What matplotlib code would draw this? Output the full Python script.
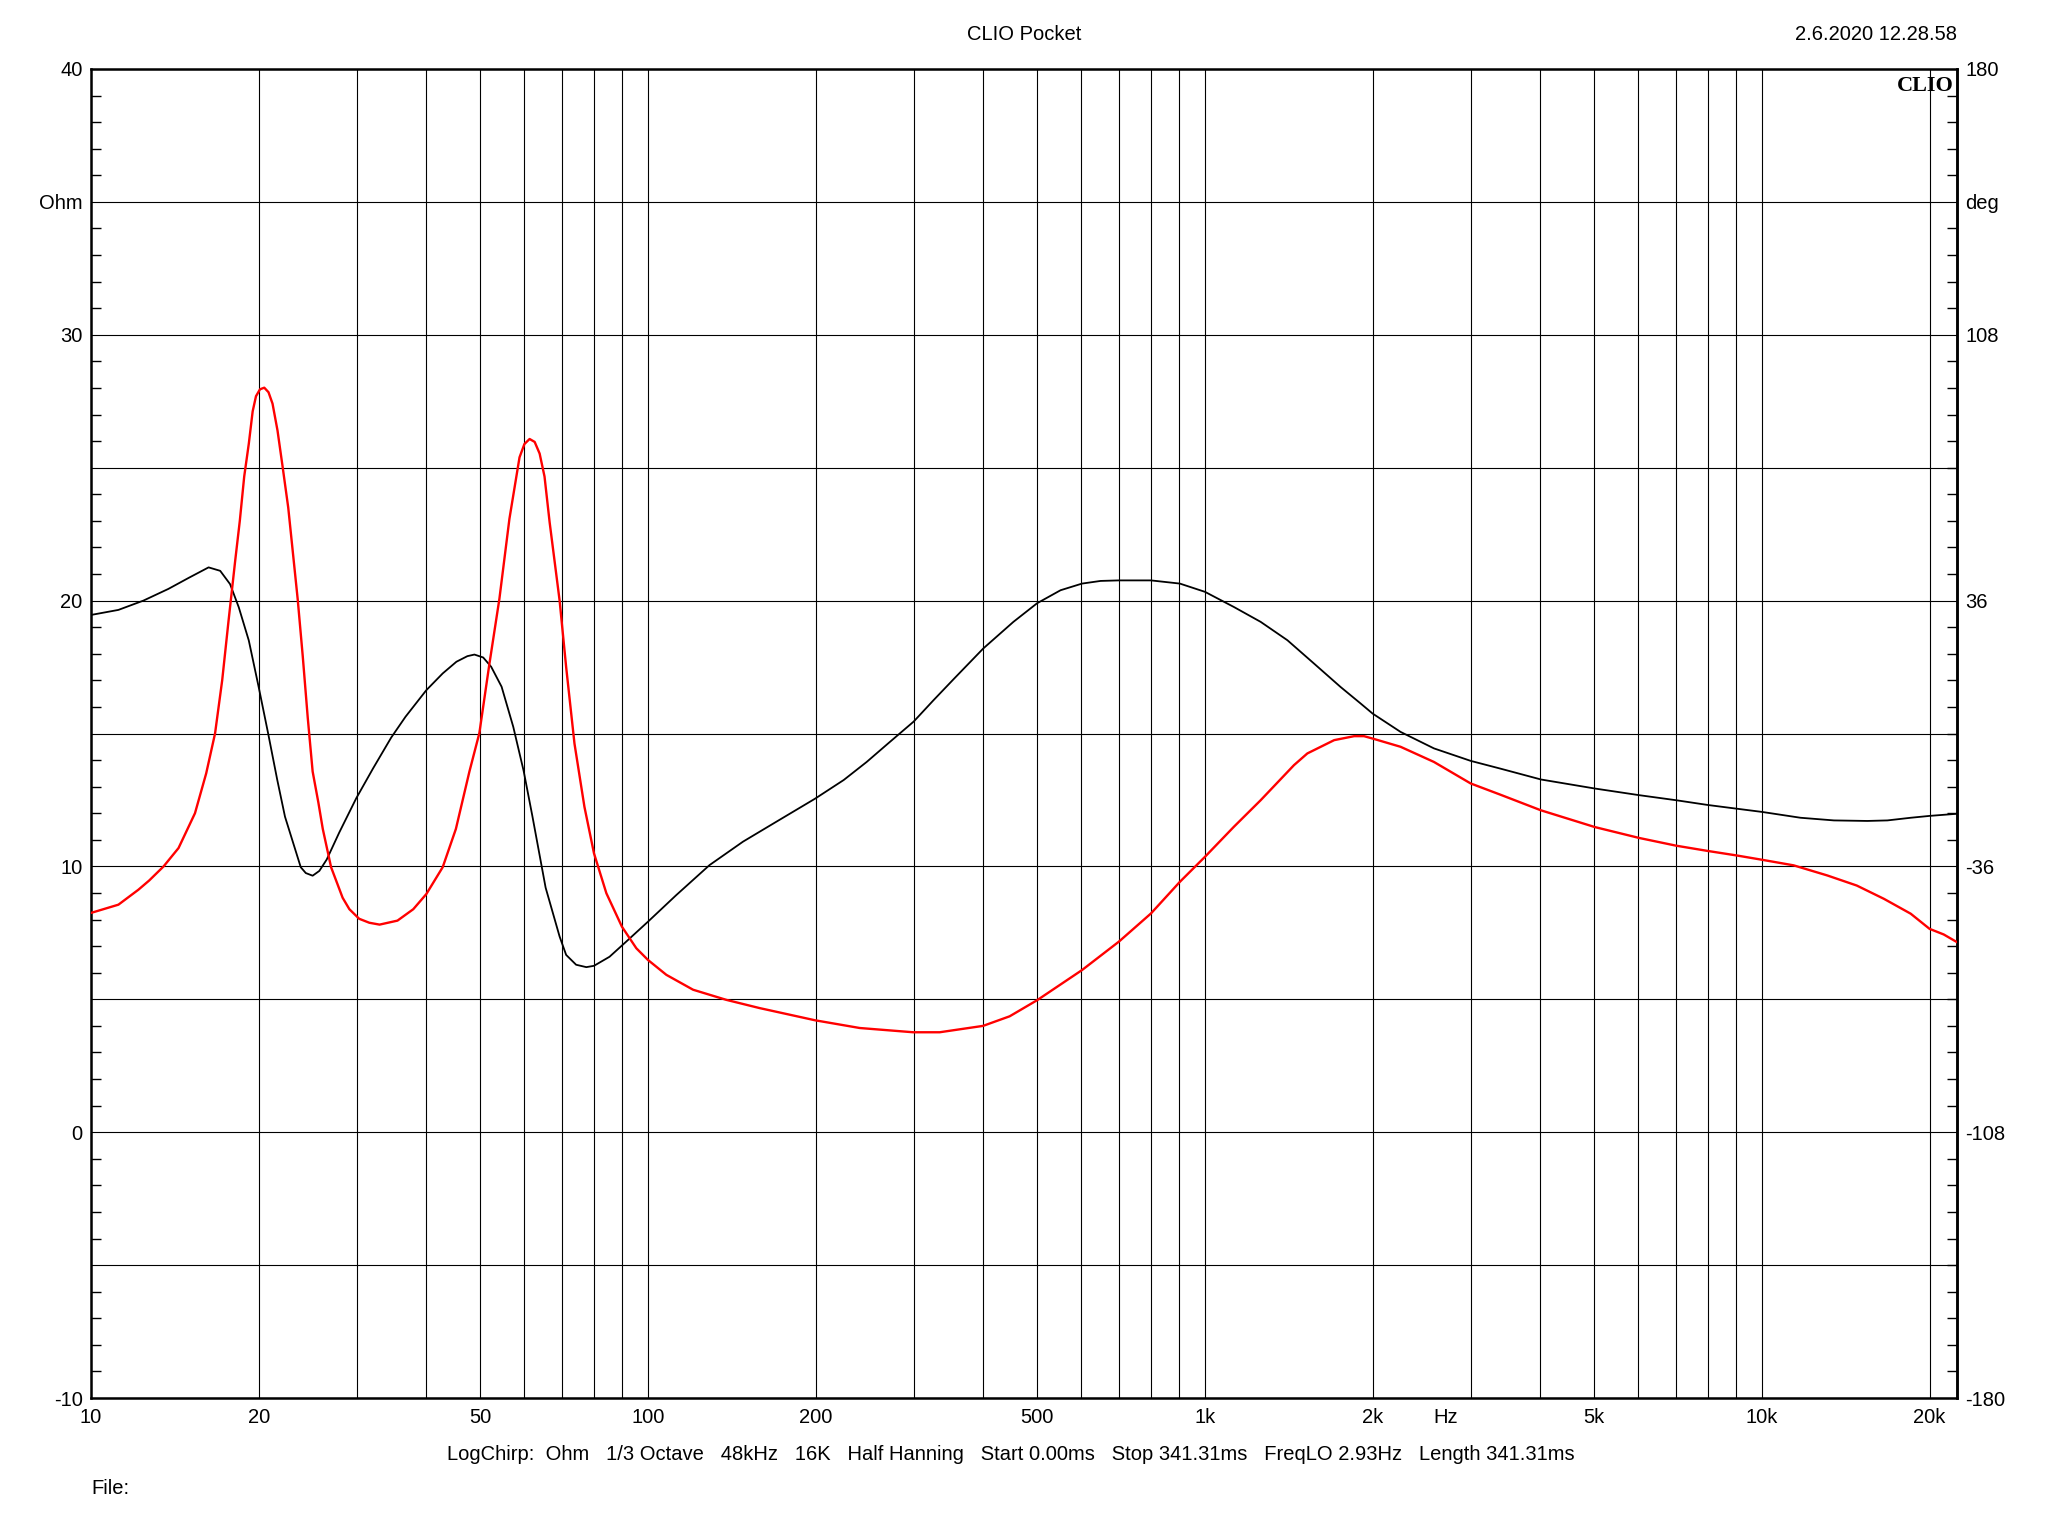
import numpy as np
import matplotlib
matplotlib.use("Agg")
import matplotlib.pyplot as plt
from matplotlib.ticker import FixedLocator, FuncFormatter, MultipleLocator, NullLocator

plt.rcParams['font.family'] = ['Liberation Sans', 'DejaVu Sans']
plt.rcParams['font.size'] = 14.5

# red trace (Ohm)
red_hz = [10, 11.2, 12.16, 12.72, 13.5, 14.36, 15.37, 16.1, 16.7, 17.2, 17.66, 18.15, 18.5,
          18.84, 19.2, 19.51, 19.78, 20.11, 20.47, 20.83, 21.18, 21.62, 22.06, 22.6, 23.5,
          24.0, 24.5, 25.0, 25.6, 26.07, 26.98, 28.3, 29.1, 30.3, 31.6, 32.97, 35.5, 37.9,
          40.0, 42.8, 45.2, 47.8, 49.8, 51.9, 54.1, 56.4, 58.8, 60.0, 61.3, 62.6, 63.9, 65.2,
          66.6, 69.4, 71.3, 73.8, 76.9, 80, 84.2, 89.8, 95.3, 100, 107.9, 120.5,
          138.2, 158.6, 199.6, 240, 299.3, 334, 399.6, 446, 500, 601.6, 700.7, 800, 901.6,
          1000, 1127, 1259, 1445, 1527, 1614, 1706, 1853, 1930, 2000, 2245, 2577, 3000, 3390,
          4011, 5012, 6020, 7012, 8000, 9018, 10000, 11400, 13100, 14800, 16560, 18500, 20000,
          21200, 22400]
red_ohm = [8.25, 8.56, 9.12, 9.47, 10.0, 10.69, 12.0, 13.5, 15.0, 17.0, 19.25, 21.5, 23.0,
           24.67, 25.9, 27.12, 27.69, 27.95, 28.01, 27.84, 27.41, 26.4, 25.1, 23.5, 20.06,
           17.9, 15.59, 13.57, 12.4, 11.41, 9.97, 8.82, 8.39, 8.03, 7.88, 7.81, 7.96, 8.39,
           8.96, 9.97, 11.41, 13.57, 15.01, 17.6, 20.06, 23.08, 25.39, 25.89, 26.08, 25.97, 25.53, 24.67,
           22.94, 20.0, 17.5, 14.62, 12.24, 10.49, 8.99, 7.73, 6.92, 6.48, 5.92, 5.36,
           4.98, 4.67, 4.21, 3.92, 3.76, 3.76, 4.0, 4.36, 4.97, 6.1, 7.17, 8.23, 9.42,
           10.36, 11.49, 12.49, 13.81, 14.25, 14.5, 14.75, 14.9, 14.9, 14.81, 14.5, 13.93, 13.12, 12.7,
           12.11, 11.48, 11.07, 10.78, 10.58, 10.41, 10.25, 10.04, 9.66, 9.28, 8.78, 8.22, 7.65,
           7.44, 7.15]

# black trace, same units
blk_hz = [10, 11.2, 12.42, 13.77, 14.96, 16.26, 17.06, 17.77, 18.42, 19.2, 20, 20.8, 21.6,
          22.3, 23.8, 24.3, 25.0, 25.7, 26.5, 27.9, 29.95, 32.08, 34.6, 36.7, 40, 42.8, 45.3,
          47.4, 48.8, 50.6, 52.3, 54.6, 57.3, 59.8, 62.0, 65.5, 69.4, 71.3, 74.3, 77.5, 80,
          85.3, 91.4, 100, 112.4, 129, 148.1, 170, 199.6, 224.6, 247, 270, 300, 325.5, 354, 400,
          453, 499.6, 550.5, 601.6, 649.6, 700.7, 800, 901.6, 1000, 1127, 1259, 1406, 1570, 1752,
          1903, 2000, 2245, 2577, 3000, 3390, 4011, 5012, 6020, 7012, 8000, 9018, 10000, 11730,
          13470, 15460, 16800, 18500, 20000, 22400]
blk_ohm = [19.46, 19.65, 20.0, 20.44, 20.85, 21.25, 21.12, 20.62, 19.75, 18.5, 16.75, 15.0, 13.25,
           11.87, 9.97, 9.75, 9.65, 9.83, 10.26, 11.27, 12.57, 13.68, 14.85, 15.63, 16.63, 17.26, 17.7,
           17.91, 17.97, 17.86, 17.51, 16.76, 15.25, 13.6, 11.9, 9.2, 7.36, 6.67, 6.3, 6.21, 6.26,
           6.6, 7.17, 7.92, 8.92, 10.05, 10.93, 11.68, 12.55, 13.25, 13.93, 14.63, 15.45, 16.25, 17.05, 18.2,
           19.2, 19.9, 20.39, 20.64, 20.74, 20.76, 20.76, 20.64, 20.33, 19.76, 19.2, 18.51, 17.63, 16.75,
           16.13, 15.75, 15.06, 14.44, 13.97, 13.68, 13.27, 12.93, 12.68, 12.49, 12.31, 12.17, 12.05, 11.83,
           11.73, 11.71, 11.73, 11.83, 11.9, 11.98]

grid_hz = [m * d for d in (10, 100, 1000) for m in range(1, 10)] + [10000, 20000]
x_labels = {10: '10', 20: '20', 50: '50', 100: '100', 200: '200', 500: '500',
            1000: '1k', 2000: '2k', 5000: '5k', 10000: '10k', 20000: '20k'}
left_labels = {40: '40', 35: 'Ohm', 30: '30', 20: '20', 10: '10', 0: '0', -10: '-10'}
right_labels = {180: '180', 144: 'deg', 108: '108', 36: '36', -36: '-36', -108: '-108', -180: '-180'}

fig = plt.figure(figsize=(20.48, 15.36), dpi=100)
ax = fig.add_axes([91/2048, 1 - 1398/1536, (1957-91)/2048, (1398-69)/1536])

ax.plot(blk_hz, blk_ohm, color='black', lw=1.3, zorder=3)
ax.plot(red_hz, red_ohm, color='#ff0000', lw=1.7, zorder=4)

ax.set_xscale('log')
ax.set_xlim(10, 22400)
ax.set_ylim(-10, 40)

ax.xaxis.set_major_locator(FixedLocator(grid_hz))
ax.xaxis.set_minor_locator(NullLocator())
ax.xaxis.set_major_formatter(FuncFormatter(lambda v, p: x_labels.get(int(round(v)), '')))
ax.tick_params(axis='x', which='major', length=0, pad=7)

ax.yaxis.set_major_locator(MultipleLocator(5))
ax.yaxis.set_minor_locator(MultipleLocator(1))
ax.yaxis.set_major_formatter(FuncFormatter(lambda v, p: left_labels.get(int(round(v)), '')))
ax.tick_params(axis='y', which='major', length=0, pad=6)
ax.tick_params(axis='y', which='minor', direction='in', length=7, width=1)

ax.grid(True, which='major', color='black', lw=0.8)
for s in ax.spines.values():
    s.set_linewidth(1.8)

sec = ax.secondary_yaxis('right', functions=(lambda y: (y + 10) * 7.2 - 180,
                                             lambda d: (d + 180) / 7.2 - 10))
sec.yaxis.set_major_locator(FixedLocator(list(right_labels.keys())))
sec.yaxis.set_minor_locator(MultipleLocator(7.2))
sec.yaxis.set_major_formatter(FuncFormatter(lambda v, p: right_labels.get(int(round(v)), '')))
sec.tick_params(axis='y', which='major', length=0, pad=6)
sec.tick_params(axis='y', which='minor', direction='in', length=7, width=1)
sec.spines['right'].set_linewidth(1.8)

ax.annotate('Hz', xy=(2700, 0), xycoords=('data', 'axes fraction'), xytext=(0, -7),
            textcoords='offset points', ha='center', va='top')

ax.text(0.9985, 0.995, 'CLIO', transform=ax.transAxes, ha='right', va='top',
        fontsize=16, fontweight='bold', family='Liberation Serif')

fig.text(1024/2048, 1 - 34/1536, 'CLIO Pocket', ha='center', va='center')
fig.text(1957/2048, 1 - 34/1536, '2.6.2020 12.28.58', ha='right', va='center')
fig.text(447/2048, 1 - 1455/1536,
         'LogChirp:  Ohm   1/3 Octave   48kHz   16K   Half Hanning   Start 0.00ms   '
         'Stop 341.31ms   FreqLO 2.93Hz   Length 341.31ms',
         ha='left', va='center')
fig.text(91/2048, 1 - 1489/1536, 'File:', ha='left', va='center')

fig.savefig('out.png', dpi=100, facecolor='white')
